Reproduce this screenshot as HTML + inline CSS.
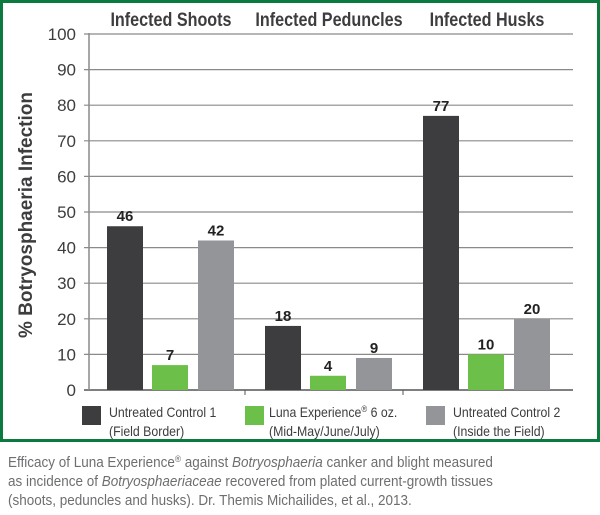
<!DOCTYPE html>
<html><head><meta charset="utf-8"><style>
body{margin:0;background:#fff;}
svg text{font-family:"Liberation Sans",sans-serif;}
</style></head><body>
<svg width="600" height="510" viewBox="0 0 600 510">
<rect x="1.5" y="1.5" width="597" height="439" fill="#fff" stroke="#0b7a3e" stroke-width="3"/>
<g id="grid"></g>
<g id="bars"></g>
<text x="32" y="215" transform="rotate(-90 32 215)" text-anchor="middle" font-size="19" font-weight="bold" fill="#3d3d3f">% Botryosphaeria Infection</text>
<g>
<rect x="82" y="406" width="19" height="19" fill="#3d3d3f"/>
<text x="109" y="417" font-size="14" fill="#3d3d3f" transform="translate(109 0) scale(0.88 1) translate(-109 0)">Untreated Control 1</text>
<text x="109" y="436" font-size="14" fill="#3d3d3f" transform="translate(109 0) scale(0.88 1) translate(-109 0)">(Field Border)</text>
<rect x="245" y="406" width="19" height="19" fill="#6cc04a"/>
<text x="269" y="417" font-size="14" fill="#3d3d3f" transform="translate(269 0) scale(0.88 1) translate(-269 0)">Luna Experience<tspan font-size="9" dy="-5">®</tspan><tspan dy="5"> 6 oz.</tspan></text>
<text x="269" y="436" font-size="14" fill="#3d3d3f" transform="translate(269 0) scale(0.88 1) translate(-269 0)">(Mid-May/June/July)</text>
<rect x="426" y="406" width="19" height="19" fill="#939598"/>
<text x="453" y="417" font-size="14" fill="#3d3d3f" transform="translate(453 0) scale(0.88 1) translate(-453 0)">Untreated Control 2</text>
<text x="453" y="436" font-size="14" fill="#3d3d3f" transform="translate(453 0) scale(0.88 1) translate(-453 0)">(Inside the Field)</text>
</g>
<g fill="#6d6e70" font-size="14.5">
<text x="8" y="467" transform="translate(8 0) scale(0.93 1) translate(-8 0)">Efficacy of Luna Experience<tspan font-size="9" dy="-5">®</tspan><tspan dy="5"> against </tspan><tspan font-style="italic">Botryosphaeria</tspan> canker and blight measured</text>
<text x="8" y="486" transform="translate(8 0) scale(0.93 1) translate(-8 0)">as incidence of <tspan font-style="italic">Botryosphaeriaceae</tspan> recovered from plated current-growth tissues</text>
<text x="8" y="505" transform="translate(8 0) scale(0.93 1) translate(-8 0)">(shoots, peduncles and husks). Dr. Themis Michailides, et al., 2013.</text>
</g>
</svg>
<script>
const groups=["Infected Shoots","Infected Peduncles","Infected Husks"];
const control1=[46,18,77];
const luna=[7,4,10];
const control2=[42,9,20];
const yTicks=[0,10,20,30,40,50,60,70,80,90,100];
const NS="http://www.w3.org/2000/svg";
const y0=390,yTop=34,xL=89,xR=573;
const yS=v=>y0-(v/100)*(y0-yTop);
const groupStart=107,groupW=158;
function mk(t,a,p){const e=document.createElementNS(NS,t);for(const k in a)e.setAttribute(k,a[k]);p.appendChild(e);return e;}
const grid=document.getElementById('grid'),bars=document.getElementById('bars');
yTicks.forEach(v=>{
 const l=mk('line',{x1:84,x2:xR,y1:yS(v),y2:yS(v),stroke:v===0?'#555':'#8a8a8a','stroke-width':v===0?1.5:1.2},grid);
 
 
 const t=mk('text',{x:76,y:yS(v)+6,'text-anchor':'end','font-size':17,fill:'#3d3d3f'},grid);
 t.textContent=v;
 
 
});
const ax=mk('line',{x1:xL,x2:xL,y1:yTop-1,y2:y0,stroke:'#8a8a8a','stroke-width':1.5},grid);


[1,2].forEach(i=>{const tk=mk('line',{x1:groupStart-19+i*groupW-1,x2:groupStart-19+i*groupW-1,y1:y0,y2:y0+5,stroke:'#555'},grid);
 
 });
const series=[[control1,'#3d3d3f','control-1',0],[luna,'#6cc04a','luna',45],[control2,'#939598','control-2',91]];
groups.forEach((g,i)=>{
 const gx=groupStart+i*groupW;
 const h=mk('text',{x:gx+64,y:26,'text-anchor':'middle','font-size':19,'font-weight':'bold',fill:'#3d3d3f',transform:`translate(${gx+64} 0) scale(0.85 1) translate(${-(gx+64)} 0)`},bars);
 h.textContent=g;
 
 
 series.forEach(([arr,col,nm,off])=>{
  const v=arr[i],x=gx+off;
  const r=mk('rect',{x:x,y:yS(v),width:36,height:y0-yS(v),fill:col},bars);
  
  
  const t=mk('text',{x:x+18,y:yS(v)-5,'text-anchor':'middle','font-size':15,'font-weight':'bold',fill:'#222'},bars);
  t.textContent=v;
  
  
 });
});
</script>
</body></html>
